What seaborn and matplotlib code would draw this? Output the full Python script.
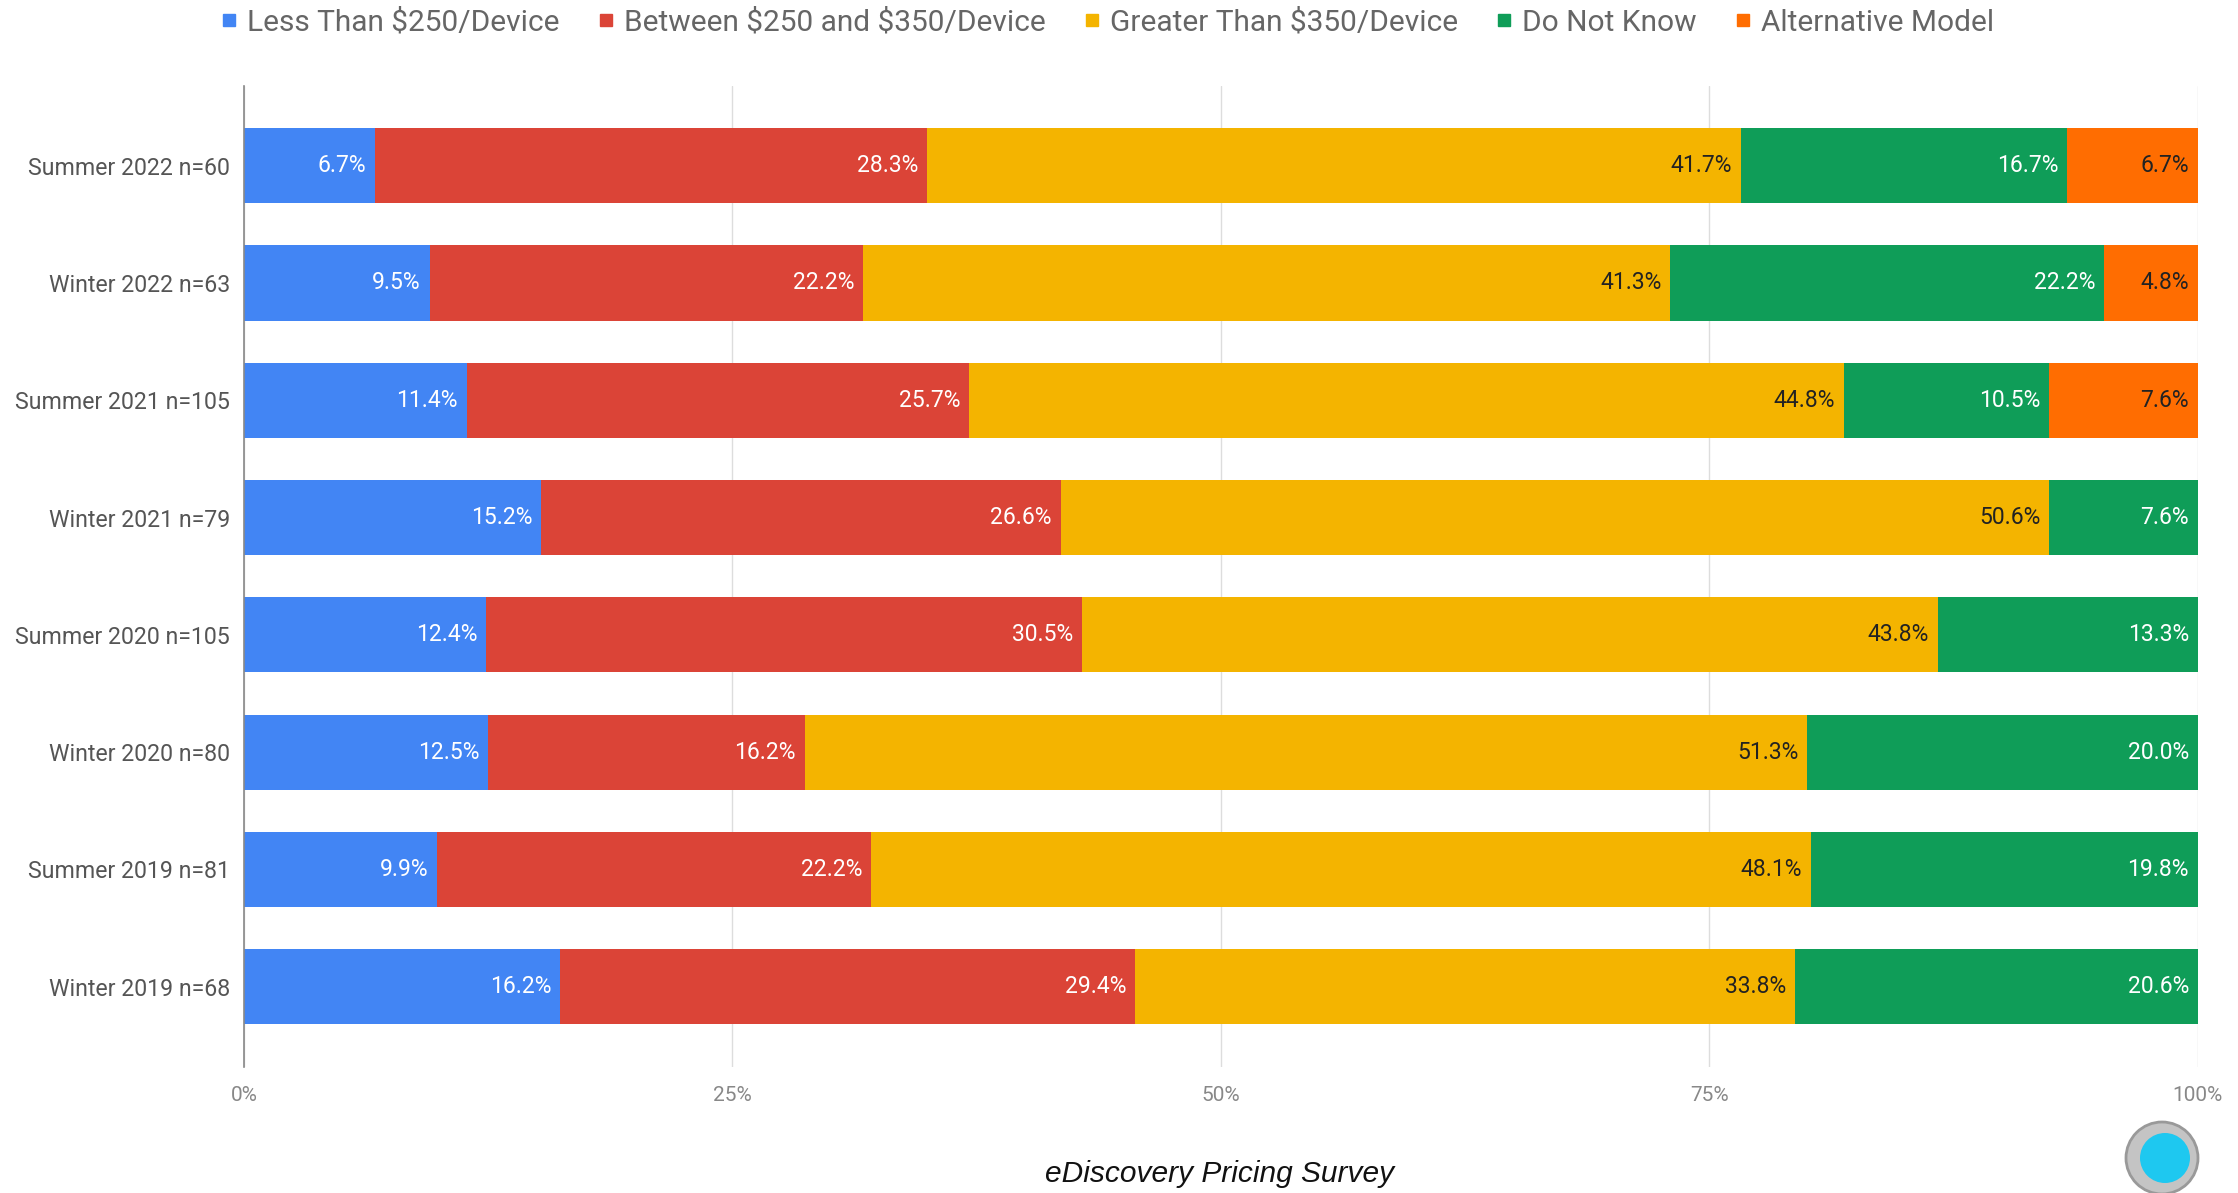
import numpy as np
import pandas as pd
import matplotlib
matplotlib.use("Agg")
import matplotlib.pyplot as plt
import seaborn as sns
from matplotlib.patches import Circle
from matplotlib.lines import Line2D

categories = ["Summer 2022 n=60", "Winter 2022 n=63", "Summer 2021 n=105", "Winter 2021 n=79",
              "Summer 2020 n=105", "Winter 2020 n=80", "Summer 2019 n=81", "Winter 2019 n=68"]
series_names = ["Less Than \\$250/Device", "Between \\$250 and \\$350/Device", "Greater Than \\$350/Device",
                "Do Not Know", "Alternative Model"]
less_250 = [6.7, 9.5, 11.4, 15.2, 12.4, 12.5, 9.9, 16.2]
between_250_350 = [28.3, 22.2, 25.7, 26.6, 30.5, 16.2, 22.2, 29.4]
greater_350 = [41.7, 41.3, 44.8, 50.6, 43.8, 51.3, 48.1, 33.8]
do_not_know = [16.7, 22.2, 10.5, 7.6, 13.3, 20.0, 19.8, 20.6]
alternative = [6.7, 4.8, 7.6, 0, 0, 0, 0, 0]
x_ticks = [0, 25, 50, 75, 100]
x_tick_labels = ["0%", "25%", "50%", "75%", "100%"]
title = "eDiscovery Pricing Survey"

colors = ["#4285F4", "#DB4437", "#F4B400", "#0F9D58", "#FF6D01"]
label_colors = ["white", "white", "#222222", "white", "#222222"]

sns.set_theme(style="white")
plt.rcParams["font.family"] = ["Roboto", "DejaVu Sans"]

values = np.array([less_250, between_250_350, greater_350, do_not_know, alternative], dtype=float)
totals = values.sum(axis=0)
pct = values / totals * 100
cum = np.cumsum(pct, axis=0)

fig = plt.figure(figsize=(22.38, 11.93), dpi=100)
ax = fig.add_axes([0.109, 0.106, 0.873, 0.822])

for i in range(len(series_names) - 1, -1, -1):
    df = pd.DataFrame({"cat": categories, "val": cum[i]})
    sns.barplot(data=df, y="cat", x="val", orient="h", color=colors[i], saturation=1,
                width=0.64, ax=ax, order=categories, linewidth=0)

for i in range(len(series_names)):
    for j, cat in enumerate(categories):
        v = values[i][j]
        if v > 0:
            ax.text(cum[i][j] - 0.45, j, f"{v:.1f}%", ha="right", va="center",
                    color=label_colors[i], fontsize=16.5)

ax.set_xlim(0, 100)
ax.set_ylim(7.68, -0.68)
ax.set_xticks(x_ticks)
ax.set_xticklabels(x_tick_labels, color="#888888", fontsize=15)
ax.tick_params(axis="x", length=0, pad=14)
ax.tick_params(axis="y", length=0, pad=10, labelsize=16.7, labelcolor="#555555")
ax.set_xlabel("")
ax.set_ylabel("")
for s in ["top", "right", "bottom"]:
    ax.spines[s].set_visible(False)
ax.spines["left"].set_color("#888888")
ax.spines["left"].set_linewidth(1.2)
ax.xaxis.grid(True, color="#dddddd", linewidth=1.0)
ax.set_axisbelow(True)

handles = [Line2D([0], [0], marker="s", linestyle="", markersize=9, markerfacecolor=c,
                  markeredgecolor=c) for c in colors]
fig.legend(handles, series_names, loc="center", bbox_to_anchor=(0.494, 0.981), ncol=5,
           frameon=False, fontsize=21.5, handletextpad=0.2, columnspacing=1.15,
           labelcolor="#666666", handlelength=0.8)

fig.text(0.545, 0.004, title, ha="center", va="bottom", fontsize=21.5, style="italic",
         color="#111111", family=["Liberation Sans", "DejaVu Sans"])

# decorative magnifier badge
fig.patches.append(Circle((21.62, 0.35), 0.36, transform=fig.dpi_scale_trans,
                          facecolor="#c4c4c4", edgecolor="#999999", linewidth=2, figure=fig))
fig.patches.append(Circle((21.65, 0.35), 0.25, transform=fig.dpi_scale_trans,
                          facecolor="#1EC8F0", edgecolor="none", figure=fig))

fig.savefig("out.png", dpi=100)
